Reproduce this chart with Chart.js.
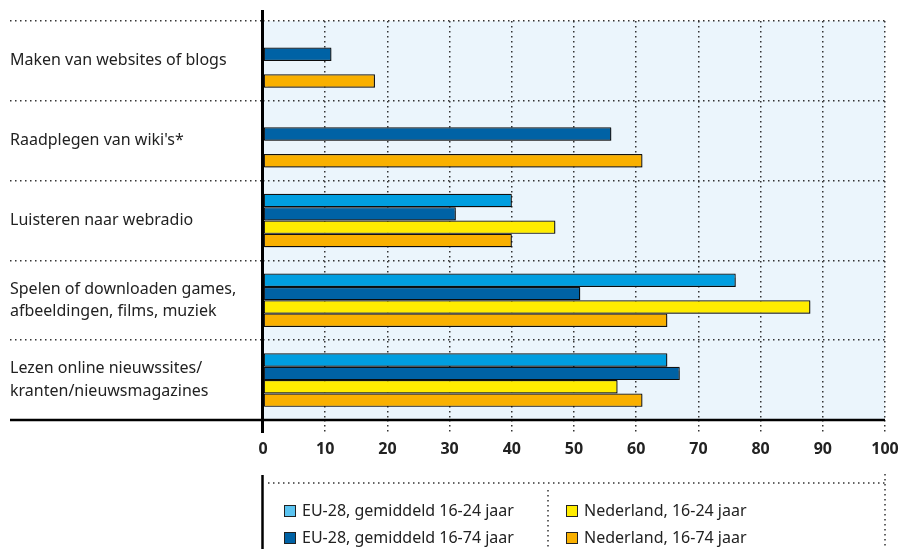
<!DOCTYPE html>
<html lang="nl">
<head>
<meta charset="utf-8">
<title>Internetactiviteiten</title>
<script src="https://cdn.jsdelivr.net/npm/chart.js@4/dist/chart.umd.min.js"></script>
<style>
  html, body { margin: 0; padding: 0; background: #fff; }
  #wrap { position: relative; width: 901px; height: 549px; }
</style>
</head>
<body>
<div id="wrap"><canvas id="chart"></canvas></div>
<script>
// Categorieën en reeksen (in %)
const categorieen = [
    'Maken van websites of blogs',
    "Raadplegen van wiki's*",
    'Luisteren naar webradio',
    ['Spelen of downloaden games,', 'afbeeldingen, films, muziek'],
    ['Lezen online nieuwssites/', 'kranten/nieuwsmagazines']
];
const reeksLabels = [
    'EU-28, gemiddeld 16-24 jaar',
    'EU-28, gemiddeld 16-74 jaar',
    'Nederland, 16-24 jaar',
    'Nederland, 16-74 jaar'
];
const eu1624 = [null, null, 40, 76, 65];
const eu1674 = [11, 56, 31, 51, 67];
const nl1624 = [null, null, 47, 88, 57];
const nl1674 = [18, 61, 40, 65, 61];
const xTicks = [0, 10, 20, 30, 40, 50, 60, 70, 80, 90, 100];

const kleuren = ['#009ee0', '#0062a5', '#ffec00', '#f9b000'];
const legendaKleuren = ['#5bc4f1', '#0062a5', '#ffec00', '#f9b000'];
const stip = [1.5, 3.5];
const tekstKleur = '#222';

const opmaak = {
    id: 'opmaak',
    beforeDraw(chart) {
        const { ctx, chartArea: a } = chart;
        ctx.save();
        ctx.fillStyle = '#ebf5fc';
        ctx.fillRect(a.left, a.top, a.right - a.left, a.bottom - a.top);
        ctx.restore();
    },
    beforeDatasetsDraw(chart) {
        const ctx = chart.ctx;
        ctx.save();
        ctx.shadowColor = 'rgba(0, 0, 0, 0.35)';
        ctx.shadowOffsetX = 1;
        ctx.shadowOffsetY = 1;
        ctx.shadowBlur = 1;
    },
    afterDatasetsDraw(chart) {
        chart.ctx.restore();
    },
    afterDraw(chart) {
        const { ctx, chartArea: a } = chart;
        ctx.save();
        ctx.strokeStyle = '#000';
        // basislijn
        ctx.lineWidth = 2.5;
        ctx.beginPath();
        ctx.moveTo(10, a.bottom);
        ctx.lineTo(a.right, a.bottom);
        ctx.stroke();
        // verticale as
        ctx.lineWidth = 3;
        ctx.beginPath();
        ctx.moveTo(a.left - 0.5, 10);
        ctx.lineTo(a.left - 0.5, a.bottom + 13);
        ctx.stroke();

        // legenda
        ctx.lineWidth = 2.5;
        ctx.beginPath();
        ctx.moveTo(a.left - 0.5, 475);
        ctx.lineTo(a.left - 0.5, 549);
        ctx.stroke();
        ctx.strokeStyle = '#333';
        ctx.lineWidth = 1.5;
        ctx.setLineDash(stip);
        ctx.beginPath();
        ctx.moveTo(268, 483);
        ctx.lineTo(a.right, 483);
        ctx.moveTo(a.right, 474);
        ctx.lineTo(a.right, 549);
        ctx.moveTo(548, 490);
        ctx.lineTo(548, 549);
        ctx.stroke();
        ctx.setLineDash([]);

        ctx.font = '16px "Noto Sans"';
        ctx.textBaseline = 'middle';
        ctx.textAlign = 'left';
        chart.data.datasets.forEach((ds, i) => {
            const x = i < 2 ? 284 : 566;
            const y = i % 2 === 0 ? 511 : 538;
            ctx.fillStyle = legendaKleuren[i];
            ctx.fillRect(x, y - 6, 12, 12);
            ctx.strokeStyle = '#222';
            ctx.lineWidth = 1;
            ctx.strokeRect(x + 0.5, y - 5.5, 11, 11);
            ctx.fillStyle = tekstKleur;
            ctx.fillText(ds.label, x + 18, y);
        });
        ctx.restore();
    }
};

const reeksen = [eu1624, eu1674, nl1624, nl1674];

// labels mogen buiten het plotvlak uitsteken zonder extra ruimte te vragen
function geenExtraRuimte(scale) {
    scale.paddingLeft = 0;
    scale.paddingRight = 0;
    scale.paddingTop = 0;
    scale.paddingBottom = 0;
}

new Chart(document.getElementById('chart'), {
    type: 'bar',
    data: {
        labels: categorieen,
        datasets: reeksen.map((data, i) => ({
            label: reeksLabels[i],
            data: data,
            backgroundColor: kleuren[i],
            borderColor: '#111',
            borderWidth: 1.2,
            borderSkipped: false,
            categoryPercentage: 0.67,
            barPercentage: 1.0
        }))
    },
    options: {
        indexAxis: 'y',
        responsive: true,
        maintainAspectRatio: false,
        animation: false,
        layout: { padding: { left: 10, top: 21, right: 16, bottom: 0 } },
        plugins: {
            legend: { display: false },
            tooltip: { enabled: false }
        },
        scales: {
            x: {
                position: 'bottom',
                min: xTicks[0],
                max: xTicks[xTicks.length - 1],
                afterBuildTicks(scale) {
                    scale.ticks = xTicks.map(v => ({ value: v }));
                },
                afterFit(scale) {
                    scale.height = 129;
                    geenExtraRuimte(scale);
                },
                grid: {
                    color: '#333',
                    lineWidth: 1.5,
                    tickLength: 12,
                    tickBorderDash: stip
                },
                border: { display: false, dash: stip },
                ticks: {
                    color: tekstKleur,
                    padding: 8,
                    font: { family: '"Noto Sans"', size: 16, weight: 'bold' }
                }
            },
            y: {
                position: 'left',
                afterFit(scale) {
                    scale.width = 253;
                    geenExtraRuimte(scale);
                },
                grid: {
                    color: '#333',
                    lineWidth: 1.5,
                    offset: true,
                    tickLength: 253,
                    tickBorderDash: stip
                },
                border: { display: false, dash: stip },
                ticks: {
                    color: tekstKleur,
                    crossAlign: 'far',
                    font: { family: '"Noto Sans"', size: 16, lineHeight: 1.4 }
                }
            }
        }
    },
    plugins: [opmaak]
});
</script>
</body>
</html>
